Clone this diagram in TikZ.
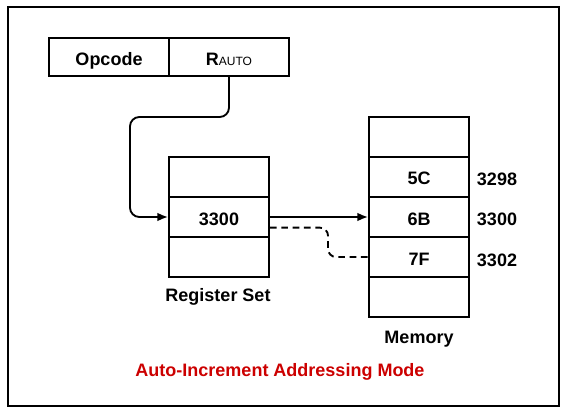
\documentclass[tikz,border=0pt]{standalone}
\usepackage{fontspec}
\setmainfont{Liberation Sans}
\usetikzlibrary{arrows.meta}
\usetikzlibrary{positioning}
\tikzset{>={Latex[length=8pt,width=6.5pt]}}
\definecolor{titlered}{RGB}{204,0,0}

\begin{document}
\begin{tikzpicture}[x=0.75pt,y=-0.75pt,
    every node/.style={font=\bfseries\fontsize{13.5}{16}\selectfont},
    field/.style={draw,line width=1.4pt,minimum width=90pt,minimum height=28.5pt,inner sep=0pt,
      text height=12.5pt,text depth=0pt},
    cell/.style={draw,line width=1.4pt,minimum width=75pt,minimum height=30pt,inner sep=0pt,
      text height=12pt,text depth=0pt},
    link/.style={line width=1.4pt,->,rounded corners=7pt},
    dashlink/.style={line width=1.4pt,dash pattern=on 5pt off 3.5pt,rounded corners=6pt}
  ]
  \useasboundingbox (0,0) rectangle (573,413);
  \draw[line width=1.4pt] (8,7) rectangle (559,406);
  % instruction
  \node[field] (opcode) at (109,57) {Opcode};
  \node[field] (rauto) at (229,57) {R{\mdseries\fontsize{9}{11}\selectfont AUTO}};
  % register set
  \foreach \i/\val in {1/,2/3300,3/}
    \node[cell] (r\i) at (219,{137+40*\i}) {\val};
  \node (regset) at (218,297) {Register Set};
  % memory
  \foreach \i/\val in {1/,2/5C,3/6B,4/7F,5/}
    \node[cell] (m\i) at (419,{97+40*\i}) {\val};
  \node (mem) at (419,339) {Memory};
  % addresses
  \node (a3298) at (497,179) {3298};
  \node (a3300) at (497,219) {3300};
  \node (a3302) at (497,260) {3302};
  % connectors
  \coordinate (bend) at (130,117);
  \coordinate (dstep) at (328,257);
  \draw[link] (rauto.south) |- (bend) |- (r2.west);
  \draw[link] (r2.east) -- (m3.west);
  \draw[dashlink] ([yshift=-8pt]r2.east) -| (dstep) -- (m4.west);
  \node[text=titlered] (title) at (280,372) {Auto-Increment Addressing Mode};
\end{tikzpicture}
\end{document}
